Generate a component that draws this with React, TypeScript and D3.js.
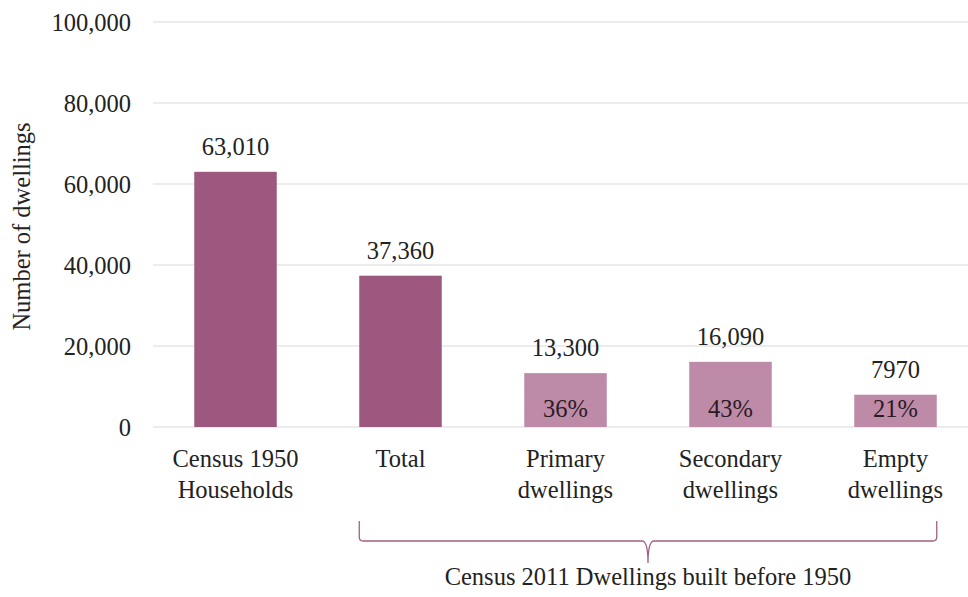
import React from 'react'
import * as d3 from 'd3'

const categories = ['Census 1950|Households', 'Total', 'Primary|dwellings', 'Secondary|dwellings', 'Empty|dwellings']
const values = [63010, 37360, 13300, 16090, 7970]
const valueLabels = ['63,010', '37,360', '13,300', '16,090', '7970']
const shares = ['', '', '36%', '43%', '21%']
const yTicks = [0, 20000, 40000, 60000, 80000, 100000]
const braceLabel = 'Census 2011 Dwellings built before 1950'

const W = 968
const H = 597
const font = '"Liberation Serif", "DejaVu Serif", serif'
const fs = 24.5
const dark = '#9d5880'
const light = '#bd8aa8'

const App = () => {
	const x = d3.scaleBand<string>().domain(categories).range([153, 978]).paddingInner(0.5).paddingOuter(0.25)
	const y = d3.scaleLinear().domain([0, 100000]).range([427, 22])
	const fmt = d3.format(',')

	// brace across the 2011 columns
	const bx0 = x(categories[1])!
	const bx1 = x(categories[4])! + x.bandwidth()
	const bm = (bx0 + bx1) / 2
	const top = 521
	const mid = 541
	const tip = 563
	const r = 4
	const brace = `M${bx0},${top} L${bx0},${mid - r} Q${bx0},${mid} ${bx0 + r},${mid} L${bm - 6},${mid} Q${bm},${mid} ${bm},${tip} Q${bm},${mid} ${bm + 6},${mid} L${bx1 - r},${mid} Q${bx1},${mid} ${bx1},${mid - r} L${bx1},${top}`

	return (
		<svg width={W} height={H} style={{ position: 'absolute', left: 0, top: 0, background: '#fff' }} fontFamily={font}>
			{/* grid + y ticks */}
			{yTicks.map((t) => (
				<g key={t}>
					<line x1={153} x2={W} y1={y(t)} y2={y(t)} stroke="#d9d9d9" strokeWidth={1} />
					<text x={131} y={y(t)} dy="0.35em" textAnchor="end" fontSize={fs} fill="#222">
						{fmt(t)}
					</text>
				</g>
			))}
			<text transform={`translate(30,${y(50000) + 2}) rotate(-90)`} textAnchor="middle" fontSize={fs} fill="#222">
				Number of dwellings
			</text>
			{/* bars */}
			{categories.map((c, i) => (
				<g key={c}>
					<rect
						x={x(c)}
						y={y(values[i])}
						width={x.bandwidth()}
						height={y(0) - y(values[i])}
						fill={i < 2 ? dark : light}
					/>
					<text x={x(c)! + x.bandwidth() / 2} y={y(values[i]) - 17} textAnchor="middle" fontSize={fs} fill="#222">
						{valueLabels[i]}
					</text>
					{shares[i] && (
						<text x={x(c)! + x.bandwidth() / 2} y={417} textAnchor="middle" fontSize={fs} fill="#2a1a22">
							{shares[i]}
						</text>
					)}
					{c.split('|').map((line, j) => (
						<text key={j} x={x(c)! + x.bandwidth() / 2} y={467 + j * 31} textAnchor="middle" fontSize={fs} fill="#222">
							{line}
						</text>
					))}
				</g>
			))}
			<path d={brace} fill="none" stroke="#a0607f" strokeWidth={1.3} />
			<text x={bm} y={585} textAnchor="middle" fontSize={fs} fill="#222">
				{braceLabel}
			</text>
		</svg>
	)
}

export default App
